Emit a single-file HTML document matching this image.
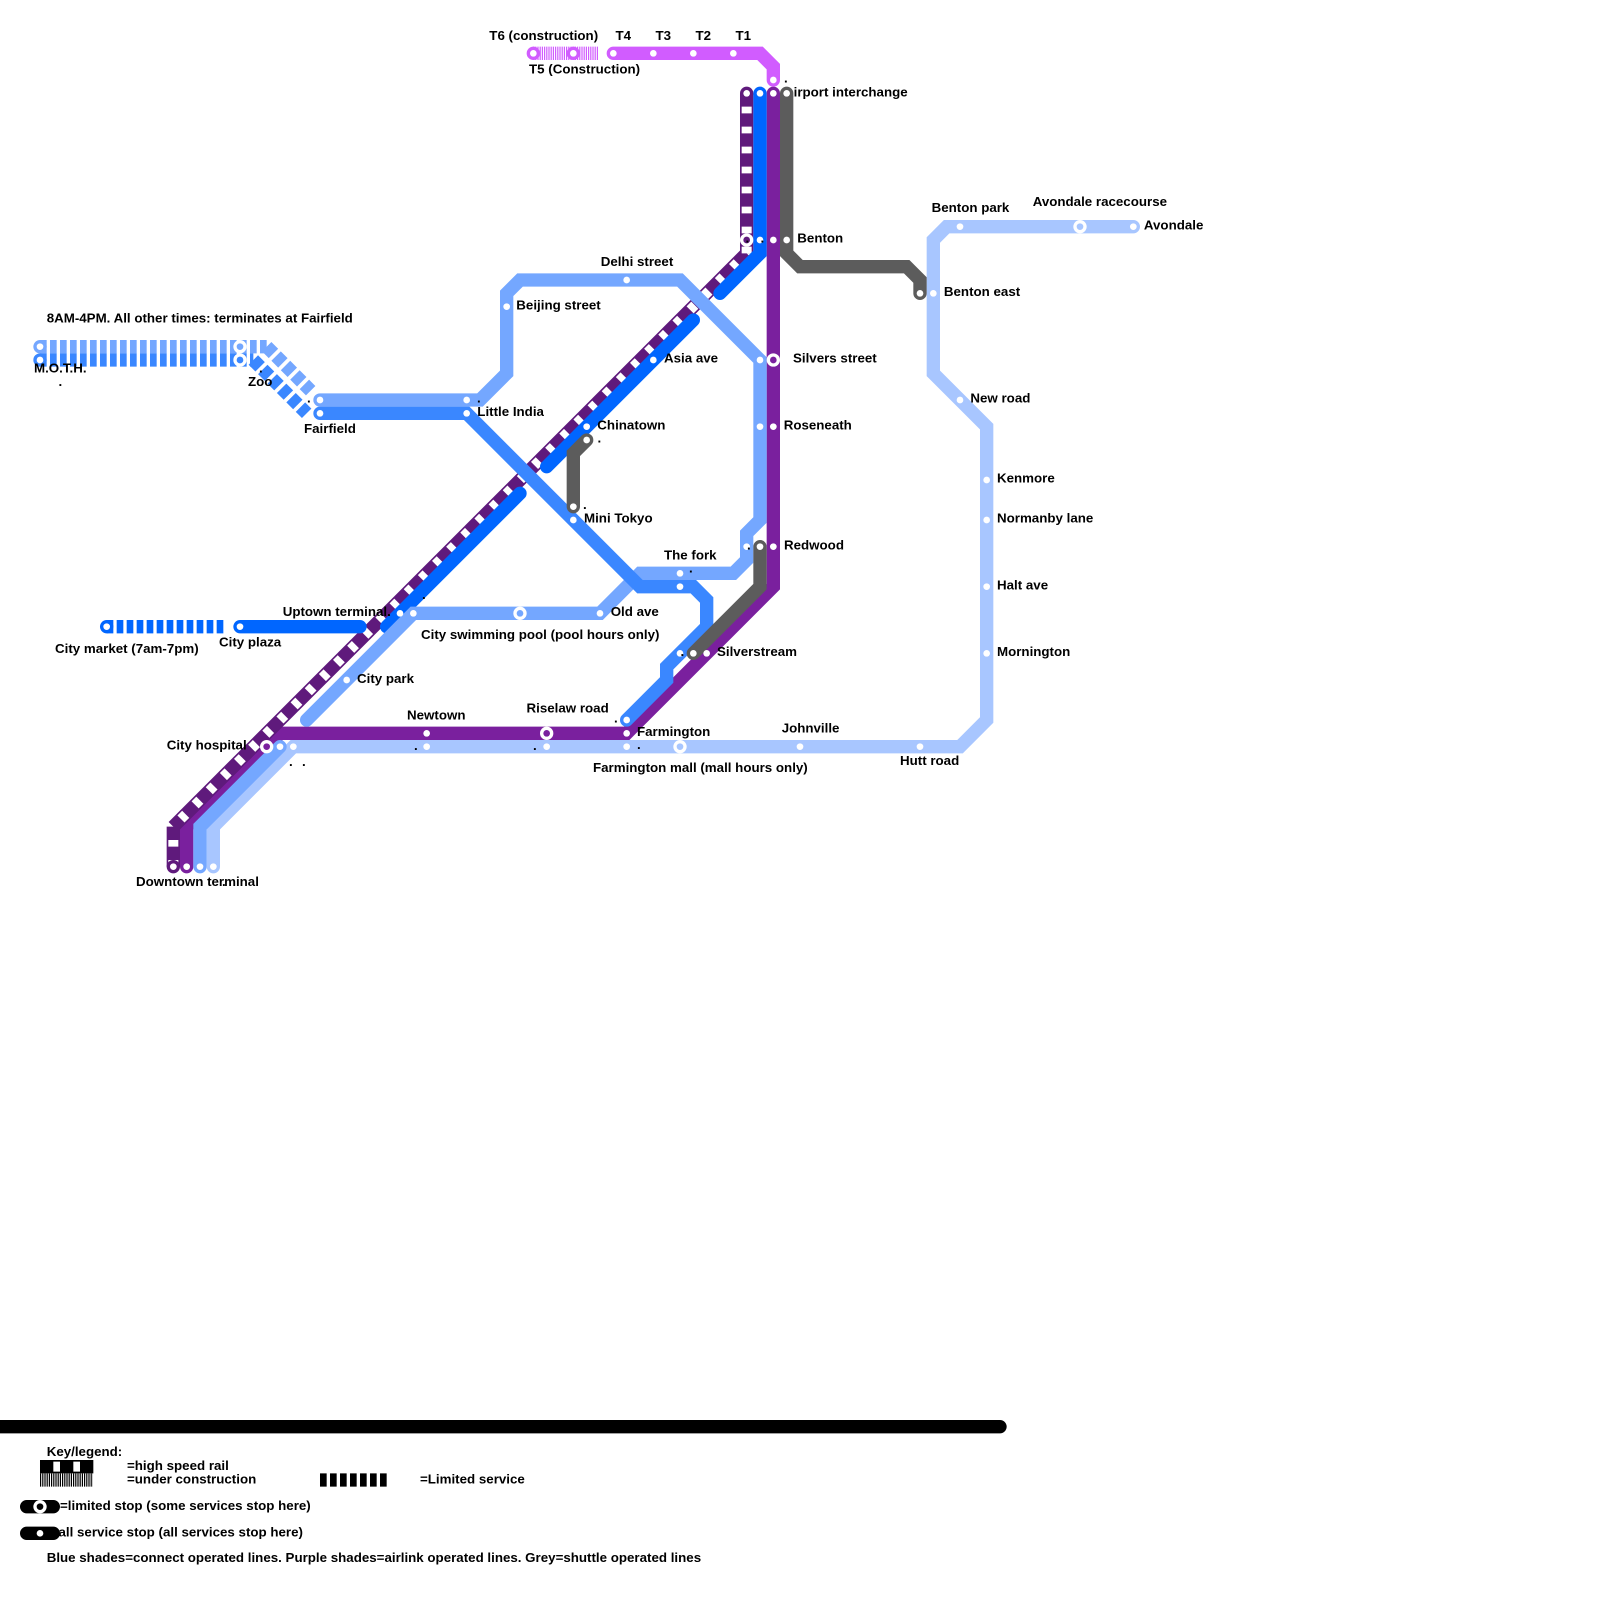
<!DOCTYPE html>
<html><head><meta charset="utf-8"><style>
html,body{margin:0;padding:0;background:#fff}
svg{display:block}
.l{fill:none;stroke-width:1;stroke-linecap:round;stroke-linejoin:miter;stroke-miterlimit:4}
.b{fill:none;stroke-width:1;stroke-linecap:butt}
.d{fill:none;stroke-width:1;stroke-linecap:butt;stroke-linejoin:miter;stroke-dasharray:.5 .25}
.e{fill:none;stroke-width:1;stroke-linecap:butt;stroke-dasharray:.72 .28}
.w{fill:none;stroke:#fff;stroke-width:.75;stroke-linecap:butt;stroke-dasharray:.5 1;stroke-dashoffset:.5}
text{font-family:"Liberation Sans",sans-serif;font-weight:bold;font-size:13.33px;fill:#000}
</style></head><body>
<svg width="1600" height="1600" viewBox="0 0 1600 1600" xmlns="http://www.w3.org/2000/svg">
<text x="784" y="96.7">Airport interchange</text>
<g transform="scale(13.3333)">
<!-- pale blue -->
<path class="l" stroke="#a8c6ff" d="M16,65V62L22,56H72L74,54V32L70,28V18L71,17H85"/>
<!-- purple -->
<path class="l" stroke="#7a209e" d="M58,7V44L47,55H21L14,62V65"/>
<!-- dark purple high speed -->
<path class="b" stroke="#5f1a7c" d="M56,7V19"/>
<path class="b" stroke="#5f1a7c" d="M56,19L13,62"/>
<path class="b" stroke="#5f1a7c" d="M13,62V65"/>
<path class="w" d="M56,7V19"/>
<path class="w" d="M56,19L13,62"/>
<path class="w" d="M13,62V65"/>
<circle cx="56" cy="7" r=".5" fill="#5f1a7c"/><circle cx="13" cy="65" r=".5" fill="#5f1a7c"/>
<!-- blue -->
<path class="l" stroke="#0066ff" d="M57,7V19L54,22"/>
<path class="l" stroke="#0066ff" d="M52,24L41,35"/>
<path class="l" stroke="#0066ff" d="M39,37L29,47"/>
<path class="l" stroke="#0066ff" d="M18,47H27"/>
<path class="d" stroke="#0066ff" d="M8,47H17"/>
<!-- light blue -->
<path class="l" stroke="#74a7ff" d="M15,65V62L21,56"/>
<path class="l" stroke="#74a7ff" d="M23,54L31,46H45L48,43H55L56,42V40L57,39V27L51,21H39L38,22V28L36,30H24"/>
<path class="d" stroke="#74a7ff" d="M3,26H20"/>
<path class="e" stroke="#74a7ff" d="M20,26L23.3,29.3"/>
<!-- mid blue -->
<path class="l" stroke="#3a87ff" d="M24,31H35L48,44H52L53,45V47L50,50V51L47,54"/>
<path class="d" stroke="#3a87ff" d="M3,27H19"/>
<path class="e" stroke="#3a87ff" d="M19,27L23,31"/>
<!-- grey -->
<path class="l" stroke="#5c5c5c" d="M59,7V19L60,20H68L69,21V22"/>
<path class="l" stroke="#5c5c5c" d="M44,33L43,34V38"/>
<path class="l" stroke="#5c5c5c" d="M57,41V44L52,49"/>
<!-- magenta -->
<path class="l" stroke="#d15cff" d="M46,4H57L58,5V6"/>
</g>
<path d="M533,53.33H598" fill="none" stroke="#d15cff" stroke-width="13.33" stroke-dasharray="1.2 1"/>
<g transform="scale(13.3333)">
<circle cx="40" cy="4" r=".5" fill="#d15cff"/><circle cx="43" cy="4" r=".5" fill="#d15cff"/>
<circle cx="3" cy="26" r=".5" fill="#74a7ff"/><circle cx="3" cy="27" r=".5" fill="#3a87ff"/>
<circle cx="8" cy="47" r=".5" fill="#0066ff"/>
<!-- normal stops -->
<g fill="#fff">
<circle cx="40" cy="4" r=".25"/><circle cx="43" cy="4" r=".25"/><circle cx="46" cy="4" r=".25"/><circle cx="49" cy="4" r=".25"/><circle cx="52" cy="4" r=".25"/><circle cx="55" cy="4" r=".25"/><circle cx="58" cy="6" r=".25"/>
<circle cx="56" cy="7" r=".25"/><circle cx="13" cy="65" r=".25"/>
<circle cx="57" cy="7" r=".25"/><circle cx="57" cy="18" r=".25"/><circle cx="49" cy="27" r=".25"/><circle cx="44" cy="32" r=".25"/><circle cx="30" cy="46" r=".25"/><circle cx="18" cy="47" r=".25"/><circle cx="8" cy="47" r=".25"/>
<circle cx="58" cy="7" r=".25"/><circle cx="58" cy="18" r=".25"/><circle cx="58" cy="32" r=".25"/><circle cx="58" cy="41" r=".25"/><circle cx="53" cy="49" r=".25"/><circle cx="47" cy="55" r=".25"/><circle cx="32" cy="55" r=".25"/><circle cx="14" cy="65" r=".25"/>
<circle cx="59" cy="7" r=".25"/><circle cx="59" cy="18" r=".25"/><circle cx="69" cy="22" r=".25"/><circle cx="44" cy="33" r=".25"/><circle cx="43" cy="38" r=".25"/><circle cx="57" cy="41" r=".25"/><circle cx="52" cy="49" r=".25"/>
<circle cx="15" cy="65" r=".25"/><circle cx="21" cy="56" r=".25"/><circle cx="26" cy="51" r=".25"/><circle cx="31" cy="46" r=".25"/><circle cx="45" cy="46" r=".25"/><circle cx="51" cy="43" r=".25"/><circle cx="56" cy="41" r=".25"/><circle cx="57" cy="27" r=".25"/><circle cx="57" cy="32" r=".25"/><circle cx="47" cy="21" r=".25"/><circle cx="38" cy="23" r=".25"/><circle cx="35" cy="30" r=".25"/><circle cx="24" cy="30" r=".25"/>
<circle cx="24" cy="31" r=".25"/><circle cx="35" cy="31" r=".25"/><circle cx="43" cy="39" r=".25"/><circle cx="51" cy="44" r=".25"/><circle cx="51" cy="49" r=".25"/><circle cx="47" cy="54" r=".25"/>
<circle cx="16" cy="65" r=".25"/><circle cx="22" cy="56" r=".25"/><circle cx="32" cy="56" r=".25"/><circle cx="41" cy="56" r=".25"/><circle cx="47" cy="56" r=".25"/><circle cx="60" cy="56" r=".25"/><circle cx="69" cy="56" r=".25"/><circle cx="74" cy="36" r=".25"/><circle cx="74" cy="39" r=".25"/><circle cx="74" cy="44" r=".25"/><circle cx="74" cy="49" r=".25"/><circle cx="72" cy="30" r=".25"/><circle cx="70" cy="22" r=".25"/><circle cx="72" cy="17" r=".25"/><circle cx="85" cy="17" r=".25"/>
<circle cx="3" cy="26" r=".25"/><circle cx="3" cy="27" r=".25"/>
<!-- limited rings -->
<circle cx="56" cy="18" r=".5"/><circle cx="58" cy="27" r=".5"/><circle cx="20" cy="56" r=".5"/><circle cx="41" cy="55" r=".5"/><circle cx="39" cy="46" r=".5"/><circle cx="51" cy="56" r=".5"/><circle cx="81" cy="17" r=".5"/><circle cx="18" cy="26" r=".5"/><circle cx="18" cy="27" r=".5"/>
</g>
<circle cx="56" cy="18" r=".25" fill="#5f1a7c"/><circle cx="58" cy="27" r=".25" fill="#7a209e"/><circle cx="20" cy="56" r=".25" fill="#7a209e"/><circle cx="41" cy="55" r=".25" fill="#7a209e"/><circle cx="39" cy="46" r=".25" fill="#74a7ff"/><circle cx="51" cy="56" r=".25" fill="#a8c6ff"/><circle cx="81" cy="17" r=".25" fill="#a8c6ff"/><circle cx="18" cy="26" r=".25" fill="#74a7ff"/><circle cx="18" cy="27" r=".25" fill="#3a87ff"/>
<!-- legend graphics -->
<path d="M-1,107H75" fill="none" stroke="#000" stroke-width="1" stroke-linecap="round"/>
<path d="M3,110H7" fill="none" stroke="#000" stroke-width="1"/>
<path d="M4,110H4.5M5.5,110H6" fill="none" stroke="#fff" stroke-width=".75"/>
<path d="M24,111H29" fill="none" stroke="#000" stroke-width="1" stroke-dasharray=".5 .25"/>
<path d="M2,113H4M2,115H4" fill="none" stroke="#000" stroke-width="1" stroke-linecap="round"/>
<circle cx="3" cy="113" r=".5" fill="#fff"/><circle cx="3" cy="113" r=".25" fill="#000"/>
<circle cx="3" cy="115" r=".25" fill="#fff"/>
</g>
<path d="M40,1480H93" fill="none" stroke="#000" stroke-width="13.33" stroke-dasharray="1.2 1"/>
<!-- labels -->
<text x="489.3" y="40">T6 (construction)</text>
<text x="529" y="73.3">T5 (Construction)</text>
<text x="615.5" y="40">T4</text><text x="655.5" y="40">T3</text><text x="695.5" y="40">T2</text><text x="735.5" y="40">T1</text>
<text x="46.7" y="322.7">8AM-4PM. All other times: terminates at Fairfield</text>
<text x="34" y="372.7">M.O.T.H.</text>
<text x="248" y="386">Zoo</text>
<text x="304" y="433">Fairfield</text>
<text x="477.3" y="416">Little India</text>
<text x="597.3" y="429.3">Chinatown</text>
<text x="584" y="522.7">Mini Tokyo</text>
<text x="610.7" y="616">Old ave</text>
<text x="421" y="639">City swimming pool (pool hours only)</text>
<text x="282.7" y="616">Uptown terminal.</text>
<text x="219" y="646.7">City plaza</text>
<text x="55" y="653">City market (7am-7pm)</text>
<text x="357" y="683">City park</text>
<text x="407" y="719.7">Newtown</text>
<text x="526.5" y="712.7">Riselaw road</text>
<text x="637" y="736">Farmington</text>
<text x="593" y="772">Farmington mall (mall hours only)</text>
<text x="781.7" y="732.7">Johnville</text>
<text x="900" y="765">Hutt road</text>
<text x="166.7" y="749.3">City hospital</text>
<text x="136" y="886">Downtown terminal</text>
<text x="717" y="656">Silverstream</text>
<text x="664" y="559.3">The fork</text>
<text x="784" y="549.3">Redwood</text>
<text x="793" y="362.7">Silvers street</text>
<text x="783.7" y="429.3">Roseneath</text>
<text x="664" y="362.7">Asia ave</text>
<text x="797.3" y="242.7">Benton</text>
<text x="600.7" y="266">Delhi street</text>
<text x="516.3" y="309.3">Beijing street</text>
<text x="931.6" y="212">Benton park</text>
<text x="1032.7" y="206">Avondale racecourse</text>
<text x="1143.9" y="229.3">Avondale</text>
<text x="943.9" y="296">Benton east</text>
<text x="970.4" y="402.7">New road</text>
<text x="997" y="482.7">Kenmore</text>
<text x="997" y="522.7">Normanby lane</text>
<text x="997" y="589.3">Halt ave</text>
<text x="997" y="656">Mornington</text>
<!-- stray dots -->
<text x="58.5" y="386">.</text><text x="259" y="372.7">.</text><text x="307" y="402.7">.</text><text x="477" y="402.7">.</text><text x="597.5" y="442.7">.</text><text x="583" y="509">.</text><text x="422" y="599">.</text><text x="614" y="722.7">.</text><text x="637" y="749">.</text><text x="414" y="750">.</text><text x="533" y="750">.</text><text x="289" y="766">.</text><text x="302" y="766">.</text><text x="222" y="886">.</text><text x="680.5" y="656">.</text><text x="689" y="572.7">.</text><text x="747" y="549.3">.</text><text x="760.5" y="242.7">.</text><text x="745.5" y="242.7">.</text><text x="784" y="82.7">.</text>
<!-- legend text -->
<text x="46.7" y="1456">Key/legend:</text>
<text x="127" y="1470">=high speed rail</text>
<text x="127" y="1483.3">=under construction</text>
<text x="420" y="1483.3">=Limited service</text>
<text x="60" y="1510">=limited stop (some services stop here)</text>
<text x="58.5" y="1536.7">all service stop (all services stop here)</text>
<text x="46.7" y="1562">Blue shades=connect operated lines. Purple shades=airlink operated lines. Grey=shuttle operated lines</text>
</svg>
</body></html>
